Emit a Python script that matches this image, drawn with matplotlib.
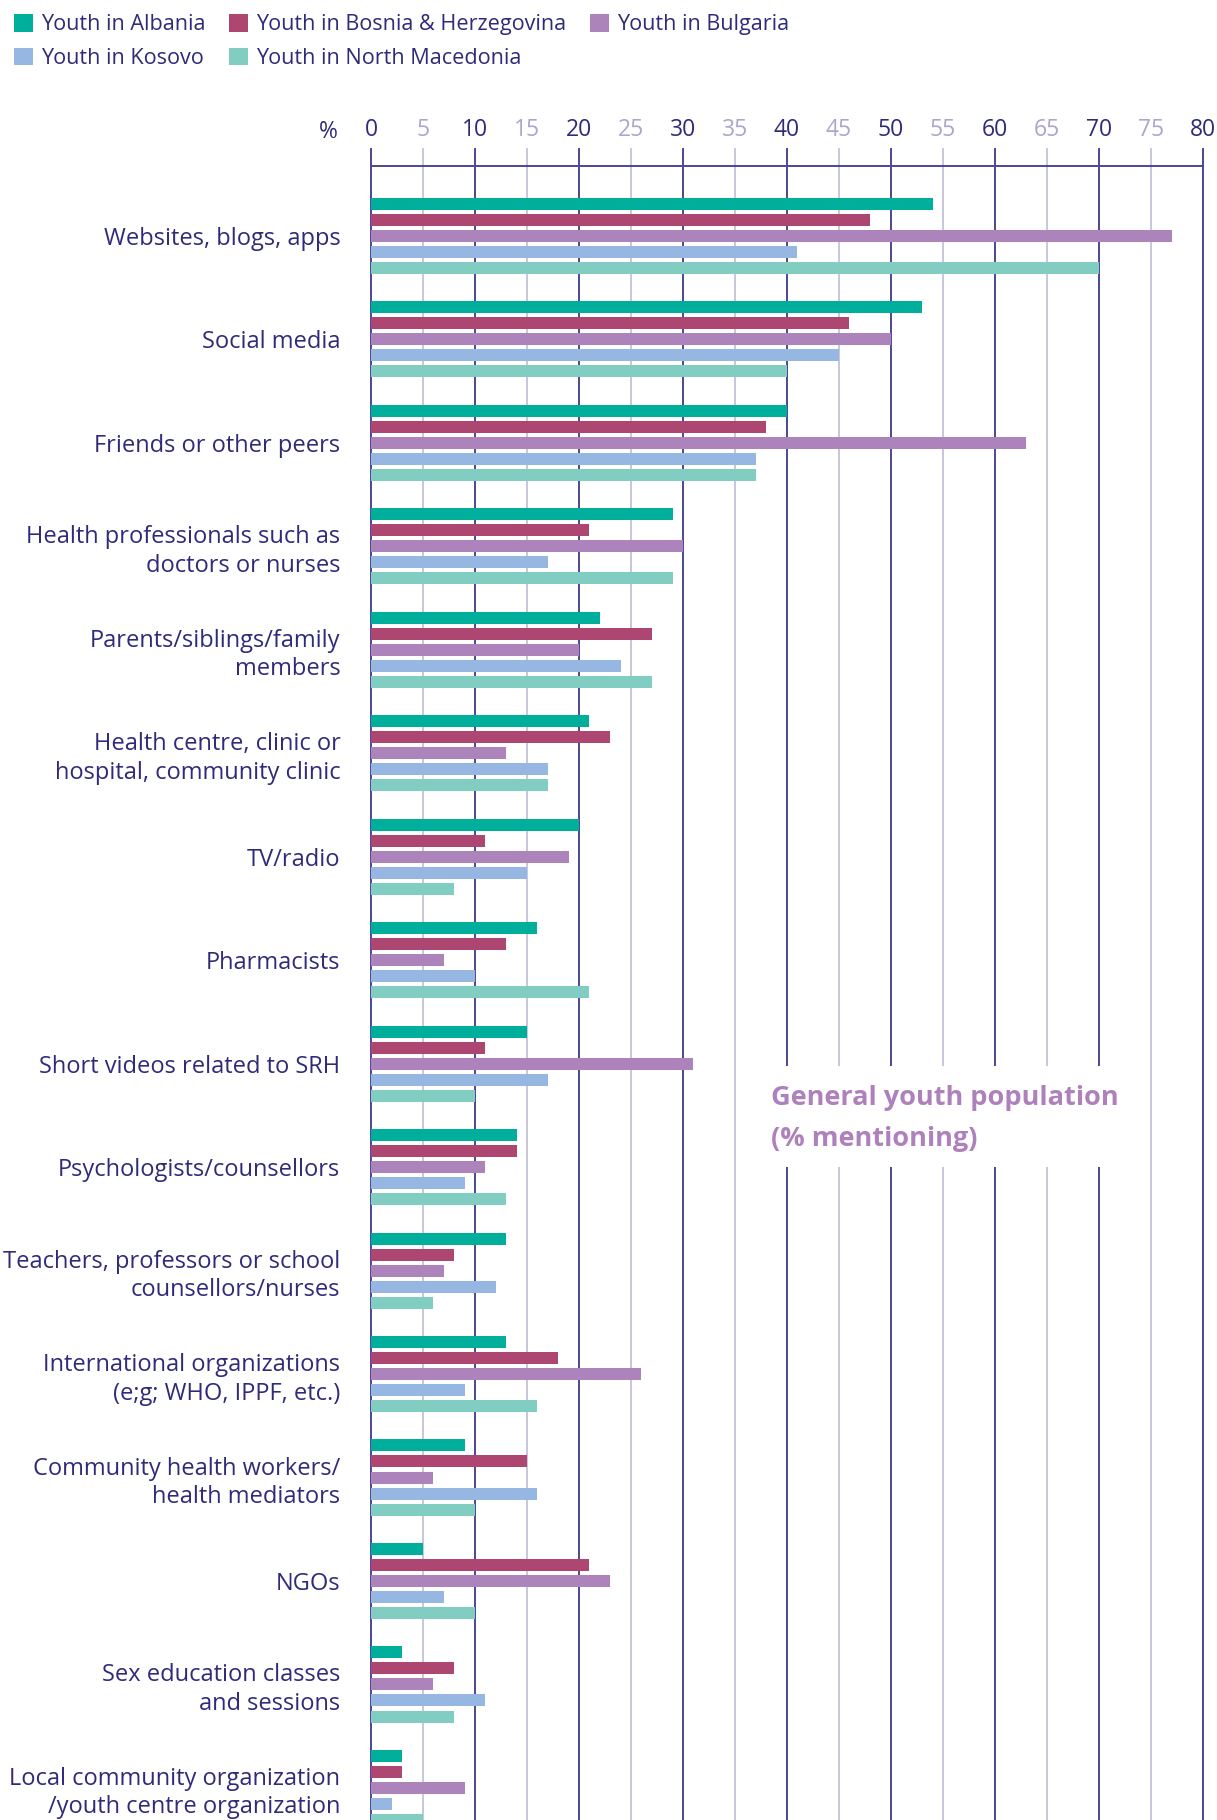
import numpy as np
import matplotlib
matplotlib.use("Agg")
import matplotlib.pyplot as plt
from matplotlib.patches import Patch, Rectangle
from matplotlib import font_manager

# sources of SRH information (% mentioning)
sources = [
    "Websites, blogs, apps",
    "Social media",
    "Friends or other peers",
    "Health professionals such as\ndoctors or nurses",
    "Parents/siblings/family\nmembers",
    "Health centre, clinic or\nhospital, community clinic",
    "TV/radio",
    "Pharmacists",
    "Short videos related to SRH",
    "Psychologists/counsellors",
    "Teachers, professors or school\ncounsellors/nurses",
    "International organizations\n(e;g; WHO, IPPF, etc.)",
    "Community health workers/\nhealth mediators",
    "NGOs",
    "Sex education classes\nand sessions",
    "Local community organization\n/youth centre organization",
]
albania   = [54, 53, 40, 29, 22, 21, 20, 16, 15, 14, 13, 13, 9, 5, 3, 3]
bosnia    = [48, 46, 38, 21, 27, 23, 11, 13, 11, 14, 8, 18, 15, 21, 8, 3]
bulgaria  = [77, 50, 63, 30, 20, 13, 19, 7, 31, 11, 7, 26, 6, 23, 6, 9]
kosovo    = [41, 45, 37, 17, 24, 17, 15, 10, 17, 9, 12, 9, 16, 7, 11, 2]
macedonia = [70, 40, 37, 29, 27, 17, 8, 21, 10, 13, 6, 16, 10, 10, 8, 5]

series_names = ["Youth in Albania", "Youth in Bosnia & Herzegovina", "Youth in Bulgaria",
                "Youth in Kosovo", "Youth in North Macedonia"]
series_colors = ["#00ae9c", "#ad4670", "#ad83bb", "#96b7e2", "#82cdc2"]
ticks = list(range(0, 85, 5))

navy = "#2f2b7a"
grid_dark = "#4b4790"
grid_light = "#c9c6dd"

installed = {f.name for f in font_manager.fontManager.ttflist}
body_font = "Open Sans" if "Open Sans" in installed else "DejaVu Sans"
plt.rcParams["font.family"] = [body_font, "DejaVu Sans"]

W, H = 1217, 1820
fig = plt.figure(figsize=(W / 100, H / 100), dpi=100)
ax = fig.add_axes([371 / W, 0, (1203 - 371) / W, 1 - 149 / H])

y = np.arange(len(sources))
pitch = 0.155
bar_h = 0.116
values = [albania, bosnia, bulgaria, kosovo, macedonia]
for j, (vals, col) in enumerate(zip(values, series_colors)):
    ax.barh(y + (j - 2) * pitch, vals, height=bar_h, color=col, zorder=3)

ax.set_xlim(0, 80)
ax.set_ylim(15.31, -0.84)

# vertical grid, dark every 10, light every 5
for t in ticks:
    ax.axvline(t, color=grid_dark if t % 10 == 0 else grid_light, lw=1.4, zorder=1, clip_on=False)
ax.plot([0, 80], [-0.676, -0.676], color=grid_dark, lw=1.4, zorder=2, clip_on=False)

for s in ax.spines.values():
    s.set_visible(False)

ax.xaxis.tick_top()
ax.set_xticks(ticks)
ax.set_xticklabels([str(t) for t in ticks], fontsize=16.5)
for t, lab in zip(ticks, ax.get_xticklabels()):
    lab.set_color(navy if t % 10 == 0 else "#aaa6cc")
ax.tick_params(axis="x", length=0, pad=5)

ax.set_yticks(y)
ax.set_yticklabels(sources, fontsize=17.0, color=navy, linespacing=1.25)
ax.tick_params(axis="y", length=0, pad=22)

fig.text(328 / W, 1 - 138 / H, "%", fontsize=16.5, color=navy, ha="center", va="baseline")

# annotation box
ax.add_patch(Rectangle((37.5, 8.02), 37.0, 0.98, facecolor="white", edgecolor="none", zorder=4))
ax.text(38.5, 8.40, "General youth population", fontsize=19.5, fontweight="bold",
        color="#ae80bc", va="baseline", zorder=5)
ax.text(38.5, 8.80, "(% mentioning)", fontsize=19.5, fontweight="bold",
        color="#ae80bc", va="baseline", zorder=5)

# legend: reorder so rows read Albania, Bosnia, Bulgaria / Kosovo, North Macedonia
order = [0, 3, 1, 4, 2]
handles = [Patch(facecolor=series_colors[i], edgecolor="none") for i in order]
labels = [series_names[i] for i in order]
leg = fig.legend(handles, labels, loc="upper left", bbox_to_anchor=(0.0, 1.0), ncol=3,
                 frameon=False, fontsize=15.6, handlelength=0.88, handleheight=0.88,
                 handletextpad=0.37, columnspacing=1.1, labelspacing=0.57,
                 borderaxespad=0.42, borderpad=0.22)
for txt in leg.get_texts():
    txt.set_color(navy)

fig.savefig("out.png", dpi=100)
